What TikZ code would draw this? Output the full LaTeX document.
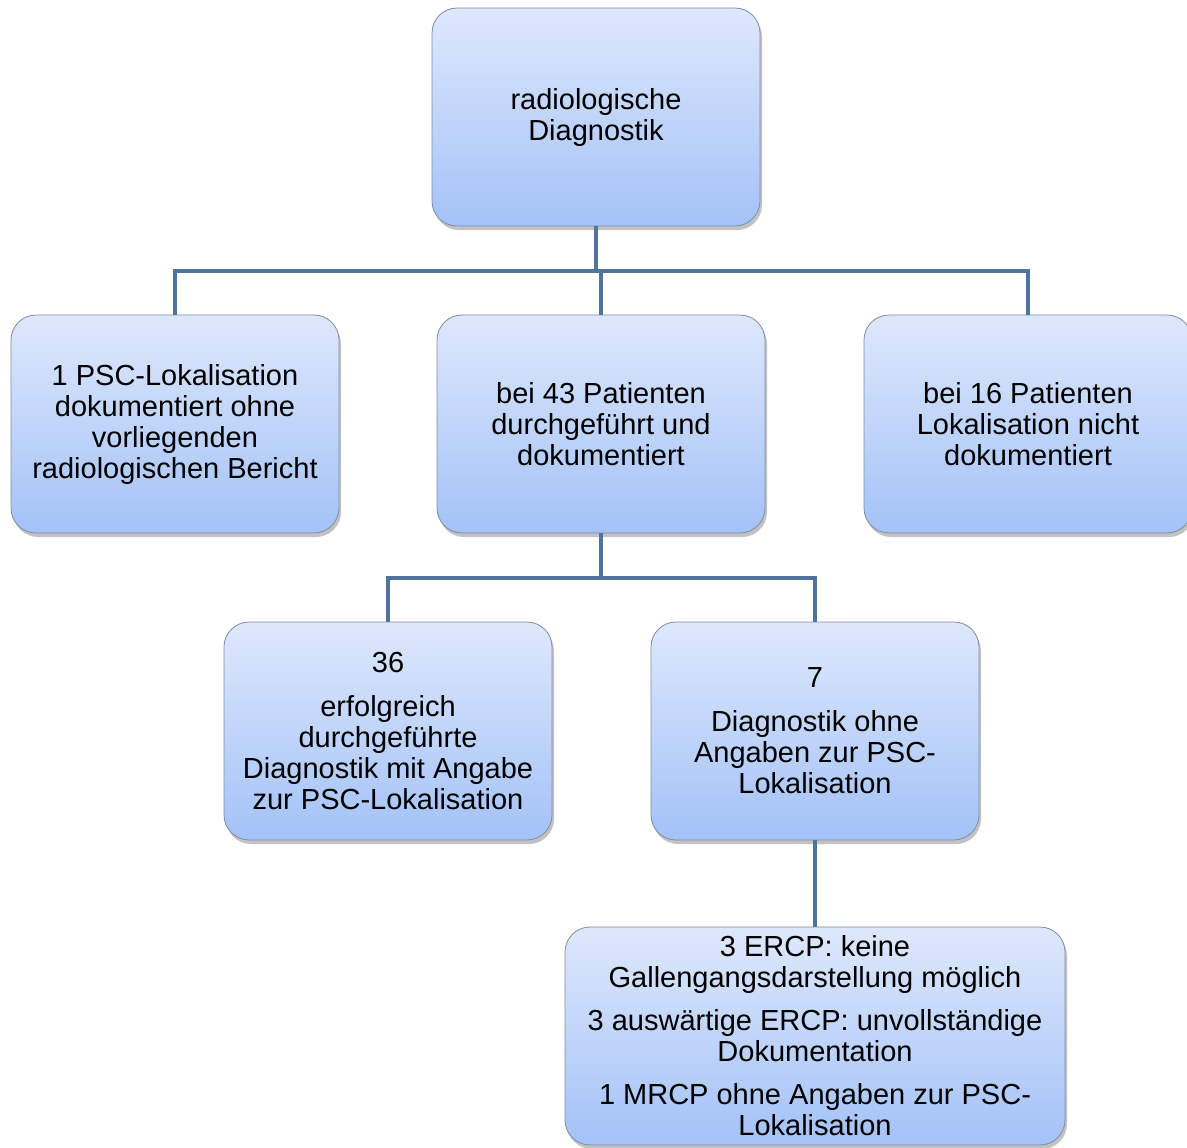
\documentclass[tikz,border=0pt]{standalone}
\usepackage{fontspec}
\setmainfont{Liberation Sans}
\usetikzlibrary{shadows}
\definecolor{linkblue}{RGB}{79,116,160}
\definecolor{boxtop}{RGB}{222,232,252}
\definecolor{boxbottom}{RGB}{163,194,248}
\definecolor{boxedge}{RGB}{128,140,160}
\tikzset{
    stufe/.style={
        rectangle,
        rounded corners=12.5pt,
        draw=boxedge, thin,
        top color=boxtop,
        bottom color=boxbottom,
        minimum width=164pt,
        minimum height=109pt,
        align=center,
        font=\fontsize{14.5}{15.5}\selectfont,
        drop shadow={shadow xshift=1pt, shadow yshift=-2pt, opacity=0.4, fill=black!60}
    },
    link/.style={draw=linkblue, line width=2.4pt}
}

\begin{document}
\begin{tikzpicture}[x=0.5pt, y=-0.5pt]
    \useasboundingbox (0,0) rectangle (1187,1147);
    \node[stufe] (diag) at (596,117) {radiologische\\Diagnostik};
    \node[stufe] (links) at (175,424) {1 PSC-Lokalisation\\dokumentiert ohne\\vorliegenden\\radiologischen Bericht};
    \node[stufe] (mitte) at (601,424) {bei 43 Patienten\\durchgeführt und\\dokumentiert};
    \node[stufe] (rechts) at (1028,424) {bei 16 Patienten\\Lokalisation nicht\\dokumentiert};
    \node[stufe] (erfolg) at (388,731) {36\\[6.5pt]erfolgreich\\durchgeführte\\Diagnostik mit Angabe\\zur PSC-Lokalisation};
    \node[stufe] (ohne) at (815,731) {7\\[6.5pt]Diagnostik ohne\\Angaben zur PSC-\\Lokalisation};
    \node[stufe, minimum width=250pt] (ercp) at (815,1036) {3 ERCP: keine\\Gallengangsdarstellung möglich\\[6pt]3 auswärtige ERCP: unvollständige\\Dokumentation\\[6pt]1 MRCP ohne Angaben zur PSC-\\Lokalisation};
    \coordinate (knoten) at (596,271);
    \coordinate (gabel) at (601,578);
    \draw[link] (diag.south) -- (knoten);
    \draw[link] (links.north) -- (links.north |- knoten) -- (rechts.north |- knoten) -- (rechts.north);
    \draw[link] (mitte.north) -- (mitte.north |- knoten);
    \draw[link] (mitte.south) -- (gabel);
    \draw[link] (erfolg.north) -- (erfolg.north |- gabel) -- (ohne.north |- gabel) -- (ohne.north);
    \draw[link] (ohne.south) -- (ercp.north);
\end{tikzpicture}
\end{document}
